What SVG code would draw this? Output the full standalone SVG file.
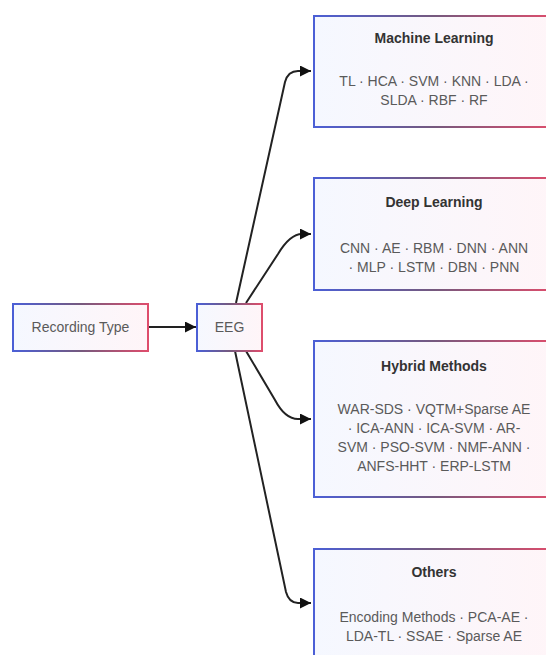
<svg xmlns="http://www.w3.org/2000/svg" width="546" height="655" viewBox="0 0 546 655">
  <defs>
    <linearGradient id="gStroke" x1="0" y1="0" x2="1" y2="0">
      <stop offset="0" stop-color="#4b5fd6"/>
      <stop offset="0.5" stop-color="#75597e"/>
      <stop offset="1" stop-color="#de4d6c"/>
    </linearGradient>
    <linearGradient id="gFill" x1="0" y1="0" x2="1" y2="0">
      <stop offset="0" stop-color="#f5f8ff"/>
      <stop offset="1" stop-color="#fff5f8"/>
    </linearGradient>
    <marker id="arrow" markerUnits="userSpaceOnUse" markerWidth="11" markerHeight="11" viewBox="0 0 10 10" refX="10" refY="5" orient="auto">
      <path d="M0,0 L10,5 L0,10 z" fill="#111"/>
    </marker>
  </defs>
  <style>
    .box { fill: url(#gFill); stroke: url(#gStroke); stroke-width: 2; }
    .title { font-family: "Liberation Sans", Arial, sans-serif; font-size: 14px; font-weight: bold; fill: #333; text-anchor: middle; }
    .item { font-family: "Liberation Sans", Arial, sans-serif; font-size: 14px; fill: #5a5a5a; text-anchor: middle; }
    .label { font-family: "Liberation Sans", Arial, sans-serif; font-size: 14px; fill: #5a5a5a; text-anchor: middle; }
    .edge { fill: none; stroke: #222; stroke-width: 2; marker-end: url(#arrow); }
  </style>
  <rect width="546" height="655" fill="#ffffff"/>

  <g id="connectors">
    <path class="edge" d="M148 327 L196 327"/>
    <path class="edge" d="M236 303 L285 82 Q288 71 298 71 L311 71"/>
    <path class="edge" d="M246 303 L278 254 Q290 234 302 234 L311 234"/>
    <path class="edge" d="M246 351 L275 400 Q285 419 298 419 L311 419"/>
    <path class="edge" d="M235 351 L286 592 Q289 603 298 603 L311 603"/>
  </g>

  <g id="recording-type">
    <rect class="box" x="13" y="304" width="135" height="47"/>
    <text class="label" x="80.5" y="332">Recording Type</text>
  </g>

  <g id="eeg">
    <rect class="box" x="197" y="304" width="65" height="47"/>
    <text class="label" x="229.5" y="332">EEG</text>
  </g>

  <g id="machine-learning">
    <rect class="box" x="314" y="16" width="240" height="111"/>
    <text class="title" x="434" y="43">Machine Learning</text>
    <text class="item" x="434" y="86">TL · HCA · SVM · KNN · LDA ·</text>
    <text class="item" x="434" y="105">SLDA · RBF · RF</text>
  </g>

  <g id="deep-learning">
    <rect class="box" x="314" y="178" width="240" height="112"/>
    <text class="title" x="434" y="207">Deep Learning</text>
    <text class="item" x="434" y="253">CNN · AE · RBM · DNN · ANN</text>
    <text class="item" x="434" y="272">· MLP · LSTM · DBN · PNN</text>
  </g>

  <g id="hybrid-methods">
    <rect class="box" x="314" y="341" width="240" height="156"/>
    <text class="title" x="434" y="371">Hybrid Methods</text>
    <text class="item" x="434" y="414">WAR-SDS · VQTM+Sparse AE</text>
    <text class="item" x="434" y="433">· ICA-ANN · ICA-SVM · AR-</text>
    <text class="item" x="434" y="452">SVM · PSO-SVM · NMF-ANN ·</text>
    <text class="item" x="434" y="471">ANFS-HHT · ERP-LSTM</text>
  </g>

  <g id="others">
    <rect class="box" x="314" y="549" width="240" height="111"/>
    <text class="title" x="434" y="577">Others</text>
    <text class="item" x="434" y="622">Encoding Methods · PCA-AE ·</text>
    <text class="item" x="434" y="641">LDA-TL · SSAE · Sparse AE</text>
  </g>
</svg>
